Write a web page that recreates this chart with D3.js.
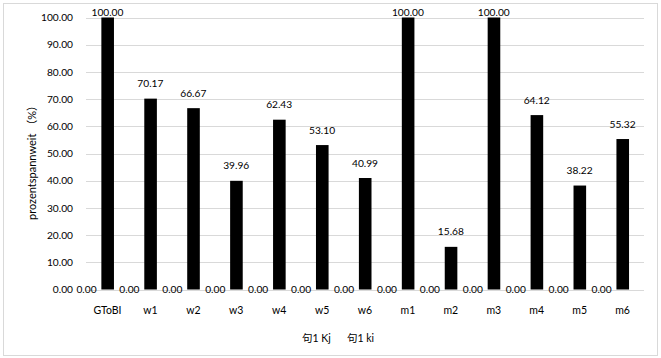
<!DOCTYPE html>
<html><head><meta charset="utf-8">
<script src="https://cdn.jsdelivr.net/npm/d3@7"></script>
<style>body{margin:0;background:#fff}svg{display:block;font-family:Lato,"Noto Sans CJK SC",sans-serif}</style>
</head><body><svg id="c" width="661" height="358"></svg>
<script>
const categories = ["GToBI","w1","w2","w3","w4","w5","w6","m1","m2","m3","m4","m5","m6"];
const seriesNames = ["句1 Kj","句1 ki"];
const kjValues = [0,0,0,0,0,0,0,0,0,0,0,0,0];
const kiValues = [100.00,70.17,66.67,39.96,62.43,53.10,40.99,100.00,15.68,100.00,64.12,38.22,55.32];
const yTicks = [0,10,20,30,40,50,60,70,80,90,100];
const yTitle = "prozentspannweit （%）";

const svg = d3.select("#c");
const W = 661, H = 358;
const m = {left:86, right:17, top:17.5, bottom:68.5};
svg.append("rect").attr("x",3.5).attr("y",3.5).attr("width",654).attr("height",352)
  .attr("fill","#fff").attr("stroke","#d9d9d9");

const x = d3.scaleBand().domain(categories).range([m.left, W-m.right]);
const y = d3.scaleLinear().domain([0,100]).range([H-m.bottom, m.top]);
const fmt = d3.format(".2f");
const fs = "10.5px";
const nfs = "10.2px";

// gridlines
svg.append("g").selectAll("line").data(yTicks).join("line")
  .attr("x1",m.left).attr("x2",W-m.right)
  .attr("y1",d=>Math.round(y(d))+0.5).attr("y2",d=>Math.round(y(d))+0.5)
  .attr("stroke","#d9d9d9");

// y axis labels
const yAxis = d3.axisLeft(y).tickValues(yTicks).tickFormat(fmt).tickSize(0).tickPadding(13);
const ga = svg.append("g").attr("transform",`translate(${m.left},0)`).call(yAxis);
ga.select(".domain").remove();
ga.selectAll("text").attr("font-size",nfs).attr("fill","#000").attr("font-family","Lato");

// x axis labels
const xAxis = d3.axisBottom(x).tickSize(0).tickPadding(17);
const gx = svg.append("g").attr("transform",`translate(0,${y(0)})`).call(xAxis);
gx.select(".domain").remove();
gx.selectAll("text").attr("font-size",fs).attr("fill","#000").attr("font-family","Lato");

// ki bars
const bw = 12.6;
svg.append("g").selectAll("rect").data(kiValues).join("rect")
  .attr("x",(d,i)=>x(categories[i])+x.bandwidth()/2-bw/2+0.2)
  .attr("width",bw)
  .attr("y",d=>y(d)).attr("height",d=>y(0)-y(d))
  .attr("fill","#000");

// ki labels
svg.append("g").selectAll("text").data(kiValues).join("text")
  .attr("x",(d,i)=>x(categories[i])+x.bandwidth()/2)
  .attr("y",d=>Math.max(y(d)-11.5,16))
  .attr("text-anchor","middle").attr("font-size",nfs).text(d=>fmt(d));

// Kj labels (zero values)
svg.append("g").selectAll("text").data(kjValues).join("text")
  .attr("x",(d,i)=>x(categories[i])+0.5)
  .attr("y",d=>y(d)+3.5)
  .attr("text-anchor","middle").attr("font-size",nfs).text(d=>fmt(d));

// y title
svg.append("text").attr("transform",`translate(36,160) rotate(-90)`)
  .attr("text-anchor","middle").attr("font-size","11px").text(yTitle);

// legend
const lg = svg.append("g");
const legX = [302, 347];
seriesNames.forEach((s,i)=>{
  lg.append("text").attr("x",legX[i]).attr("y",342).attr("font-size",fs).text(s);
});
</script></body></html>
